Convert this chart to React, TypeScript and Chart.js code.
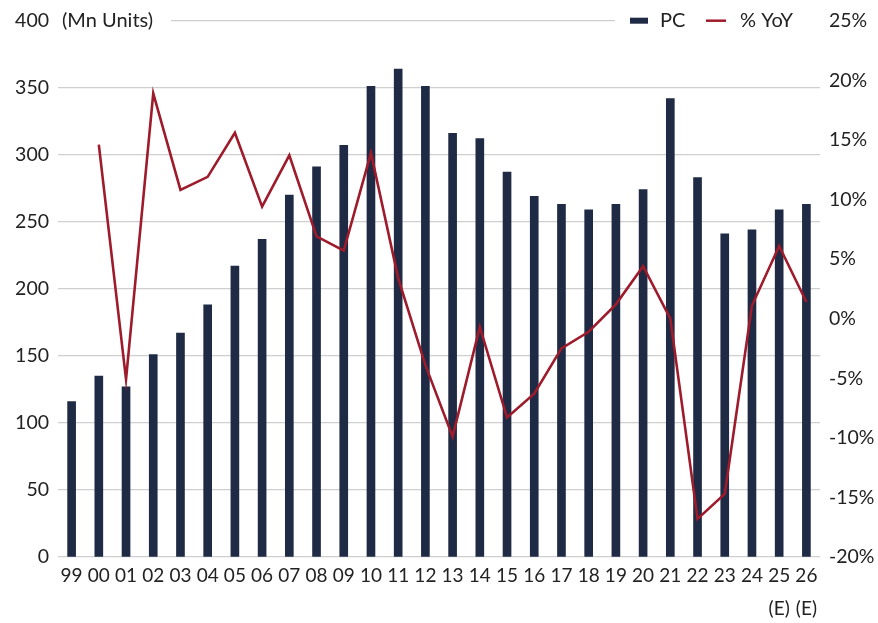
import React, { useEffect, useRef } from "react";
import { Chart, registerables } from "chart.js";

Chart.register(...registerables);

const categories: (string | string[])[] = [
  "99", "00", "01", "02", "03", "04", "05", "06", "07", "08", "09",
  "10", "11", "12", "13", "14", "15", "16", "17", "18", "19", "20",
  "21", "22", "23", "24", ["25", "(E)"], ["26", "(E)"],
];

const pcUnits: number[] = [
  116, 135, 127, 151, 167, 188, 217, 237, 270, 291, 307,
  351, 364, 351, 316, 312, 287, 269, 263, 259, 263, 274,
  342, 283, 241, 244, 259, 263,
];

const yoyPct: (number | null)[] = [
  null, 14.6, -5.1, 18.9, 10.8, 11.9, 15.6, 9.4, 13.7, 6.9, 5.7,
  13.9, 3.4, -3.9, -9.9, -0.7, -8.3, -6.3, -2.5, -1.1, 1.2, 4.4,
  0.0, -16.8, -14.7, 1.1, 6.1, 1.4,
];

const unitLabel = "(Mn Units)";
const legendLabels = ["PC", "% YoY"];

const BAR_COLOR = "#1f2a44";
const LINE_COLOR = "#9e1b2c";
const TEXT_COLOR = "#222222";
const GRID_COLOR = "#cfcfcf";
const FONT_FAMILY = "Lato, 'Open Sans', sans-serif";

const overlayPlugin = {
  id: "overlay",
  afterDraw(chart: any) {
    const { ctx, chartArea } = chart;
    const y = chartArea.top;
    ctx.save();
    ctx.fillStyle = "#ffffff";
    ctx.fillRect(chartArea.left - 1, y - 3, 172 - chartArea.left, 6);
    ctx.fillRect(615, y - 3, chartArea.right - 615 + 2, 6);
    ctx.font = `20px ${FONT_FAMILY}`;
    ctx.fillStyle = TEXT_COLOR;
    ctx.textBaseline = "middle";
    ctx.textAlign = "left";
    ctx.fillText(unitLabel, 62, y);
    // legend
    ctx.fillStyle = BAR_COLOR;
    ctx.fillRect(630, y - 3, 18, 6);
    ctx.fillStyle = TEXT_COLOR;
    ctx.fillText(legendLabels[0], 660, y);
    ctx.strokeStyle = LINE_COLOR;
    ctx.lineWidth = 2.5;
    ctx.beginPath();
    ctx.moveTo(706, y);
    ctx.lineTo(726, y);
    ctx.stroke();
    ctx.fillText(legendLabels[1], 740, y);
    ctx.restore();
  },
};

export default function App() {
  const ref = useRef<HTMLCanvasElement | null>(null);

  useEffect(() => {
    if (!ref.current) return;
    const chart = new Chart(ref.current, {
      type: "bar",
      data: {
        labels: categories as any,
        datasets: [
          {
            type: "line",
            label: legendLabels[1],
            data: yoyPct,
            yAxisID: "y1",
            borderColor: LINE_COLOR,
            backgroundColor: LINE_COLOR,
            borderWidth: 2.6,
            pointRadius: 0,
            tension: 0,
            spanGaps: false,
            order: 0,
          } as any,
          {
            type: "bar",
            label: legendLabels[0],
            data: pcUnits,
            yAxisID: "y",
            backgroundColor: BAR_COLOR,
            barThickness: 8,
            order: 1,
          },
        ],
      },
      options: {
        responsive: false,
        animation: false,
        layout: { padding: { top: 17, left: 0, right: 0, bottom: 0 } },
        plugins: {
          legend: { display: false },
          tooltip: { enabled: false },
        },
        scales: {
          x: {
            grid: { display: false, drawTicks: false },
            border: { display: false },
            ticks: {
              color: TEXT_COLOR,
              font: { family: FONT_FAMILY, size: 19, lineHeight: 1.7 },
              padding: 3,
              maxRotation: 0,
              autoSkip: false,
            },
            afterFit(scale: any) {
              scale.height = 66;
            },
          },
          y: {
            position: "left",
            min: 0,
            max: 400,
            ticks: {
              stepSize: 50,
              color: TEXT_COLOR,
              font: { family: FONT_FAMILY, size: 19.5 },
              padding: 9,
            },
            grid: { color: GRID_COLOR, lineWidth: 1.2, drawTicks: false },
            border: { display: false },
            afterFit(scale: any) {
              scale.width = 58;
            },
          },
          y1: {
            position: "right",
            min: -20,
            max: 25,
            ticks: {
              stepSize: 5,
              color: TEXT_COLOR,
              font: { family: FONT_FAMILY, size: 19.5 },
              padding: 9,
              callback: (v: any) => `${v}%`,
            },
            grid: { display: false, drawTicks: false },
            border: { display: false },
            afterFit(scale: any) {
              scale.width = 58;
            },
          },
        },
      },
      plugins: [overlayPlugin],
    });
    return () => chart.destroy();
  }, []);

  return (
    <div style={{ position: "fixed", left: 0, top: 0, width: 878, height: 623, background: "#fff" }}>
      <canvas ref={ref} width={878} height={623} style={{ display: "block" }} />
    </div>
  );
}
